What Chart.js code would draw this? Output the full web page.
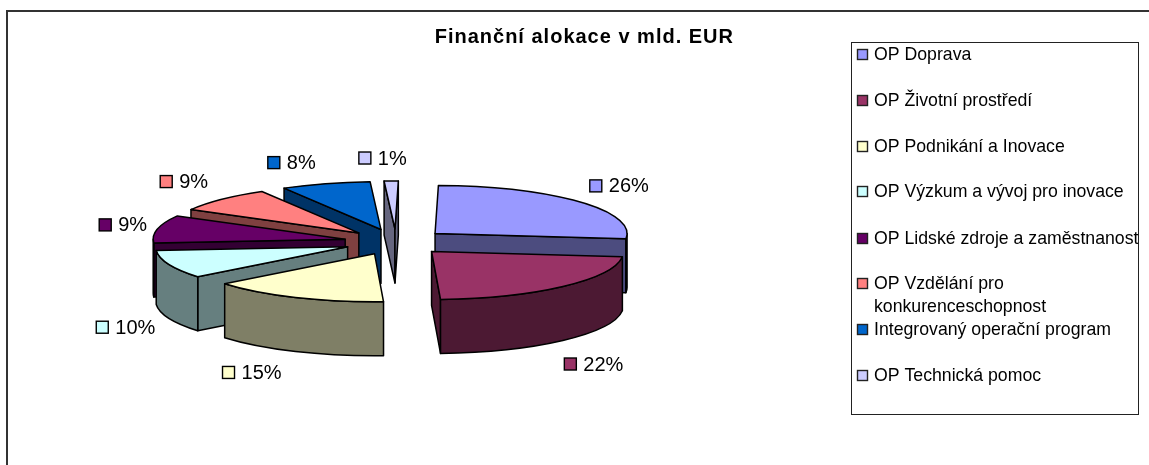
<!DOCTYPE html>
<html lang="cs">
<head>
<meta charset="utf-8">
<title>Finanční alokace</title>
<script src="https://cdn.jsdelivr.net/npm/chart.js@4"></script>
<style>
  html, body { margin: 0; background: #fff; overflow: hidden; }
  .frame { position: absolute; left: 6px; top: 10px; width: 1143px; height: 455px;
           border-top: 2px solid #333; border-left: 2px solid #333; box-sizing: border-box; }
  canvas { position: absolute; left: 0; top: 0; }
</style>
</head>
<body>
<div class="frame"></div>
<canvas id="myChart" width="1149" height="465"></canvas>
<script>
const chartTitle = 'Finanční alokace v mld. EUR';
const categories = [
  'OP Doprava',
  'OP Životní prostředí',
  'OP Podnikání a Inovace',
  'OP Výzkum a vývoj pro inovace',
  'OP Lidské zdroje a zaměstnanost',
  ['OP Vzdělání pro', 'konkurenceschopnost'],
  'Integrovaný operační program',
  'OP Technická pomoc'
];
// shares, in percent
const shares = [26.49, 22.49, 15, 9.51, 9.3, 8.51, 7.52, 1.18];
const topColors = ['#9999FF', '#993366', '#FFFFCC', '#CCFFFF', '#660066', '#FF8080', '#0066CC', '#CCCCFF'];
const sideColors = ['#4C4C7F', '#4C1933', '#7F7F66', '#667F7F', '#330033', '#7F4040', '#003366', '#66667F'];
// legend rows, y of first text line
const legendRows = [54, 100, 146, 191, 238, 283, 329, 375];
// small corrections to where the percent labels land
const labelNudge = [[8, 0], [2, 6], [-22, -1], [2, 0], [13, 1], [-2, -1], [-18, 2], [-5, 1]];

const pie3d = {
  id: 'pie3d',
  beforeDraw(chart, args, opts) {
    // title is spaced out in the original, it is drawn before the datasets
    chart.ctx.letterSpacing = opts.titleSpacing;
  },
  // draw the slices ourselves, back to front, tilted, with walls
  beforeDatasetDraw(chart, args, opts) {
    const ctx = chart.ctx;
    ctx.letterSpacing = '0px';
    const arcs = args.meta.data;
    const t = opts.tilt;
    const mid = a => (a.startAngle + a.endAngle) / 2;
    const order = arcs.map((a, i) => i).sort((p, q) => Math.sin(mid(arcs[p])) - Math.sin(mid(arcs[q])));

    for (const i of order) {
      const a = arcs[i];
      const m = mid(a);
      const r = a.outerRadius;
      const ax = a.x + Math.cos(m) * opts.explode;
      const ay = a.y + Math.sin(m) * opts.explode * t;
      const d = opts.depth;
      ctx.save();
      ctx.lineWidth = opts.lineWidth;
      ctx.lineJoin = 'round';
      ctx.strokeStyle = '#000';
      ctx.fillStyle = sideColors[i];

      // cut faces, only the ones turned to the viewer
      for (const [ang, visible] of [[a.startAngle, Math.cos(a.startAngle) < 0], [a.endAngle, Math.cos(a.endAngle) > 0]]) {
        if (!visible) continue;
        const px = ax + Math.cos(ang) * r;
        const py = ay + Math.sin(ang) * r * t;
        ctx.beginPath();
        ctx.moveTo(ax, ay);
        ctx.lineTo(px, py);
        ctx.lineTo(px, py + d);
        ctx.lineTo(ax, ay + d);
        ctx.closePath();
        ctx.fill();
        ctx.stroke();
      }

      // outer wall, front half of the ellipse only
      const s = Math.max(a.startAngle, 0);
      const e = Math.min(a.endAngle, Math.PI);
      if (e > s) {
        ctx.beginPath();
        ctx.ellipse(ax, ay, r, r * t, 0, s, e);
        ctx.ellipse(ax, ay + d, r, r * t, 0, e, s, true);
        ctx.closePath();
        ctx.fill();
        ctx.stroke();
      }

      // top face goes through the library's own arc element
      ctx.save();
      ctx.translate(ax, ay);
      ctx.scale(1, t);
      ctx.translate(-a.x, -a.y);
      a.draw(ctx);
      ctx.restore();

      ctx.beginPath();
      ctx.moveTo(ax, ay);
      ctx.ellipse(ax, ay, r, r * t, 0, a.startAngle, a.endAngle);
      ctx.closePath();
      ctx.stroke();
      ctx.restore();
    }
    return false;
  },
  afterDatasetsDraw(chart, args, opts) {
    const ctx = chart.ctx;
    const arcs = chart.getDatasetMeta(0).data;
    const total = shares.reduce((p, c) => p + c, 0);
    ctx.save();
    ctx.font = opts.labelFont;
    ctx.textBaseline = 'middle';
    ctx.textAlign = 'left';
    arcs.forEach((a, i) => {
      const m = (a.startAngle + a.endAngle) / 2;
      const txt = Math.round(shares[i] / total * 100) + '%';
      const w = 12 + 2 + ctx.measureText(txt).width;
      const front = Math.sin(m) > 0 ? opts.depth : 0;
      const x = a.x + Math.cos(m) * opts.labelRx - w / 2 + labelNudge[i][0];
      const y = a.y + Math.sin(m) * opts.labelRy + front + labelNudge[i][1];
      ctx.fillStyle = topColors[i];
      ctx.strokeStyle = '#000';
      ctx.lineWidth = 1.4;
      ctx.fillRect(x - 5, y - 6, 12, 12);
      ctx.strokeRect(x - 5, y - 6, 12, 12);
      ctx.fillStyle = '#000';
      ctx.fillText(txt, x + 14, y + 1);
    });
    ctx.restore();
  }
};

const legendBox = {
  id: 'legendBox',
  afterDraw(chart, args, opts) {
    const ctx = chart.ctx;
    ctx.save();
    ctx.strokeStyle = '#222';
    ctx.lineWidth = 1;
    ctx.strokeRect(opts.left + 0.5, opts.top + 0.5, opts.width, opts.height);
    ctx.font = opts.font;
    ctx.textBaseline = 'middle';
    ctx.textAlign = 'left';
    categories.forEach((name, i) => {
      const y = legendRows[i];
      ctx.fillStyle = topColors[i];
      ctx.strokeStyle = '#222';
      ctx.lineWidth = 1.4;
      ctx.fillRect(opts.left + 6.5, y - 4.5, 10, 10);
      ctx.strokeRect(opts.left + 6.5, y - 4.5, 10, 10);
      ctx.fillStyle = '#000';
      const lines = Array.isArray(name) ? name : [name];
      lines.forEach((line, k) => ctx.fillText(line, opts.left + 23, y + 1 + k * opts.lineGap));
    });
    ctx.restore();
  }
};

const ctx = document.getElementById('myChart').getContext('2d');

const chart = new Chart(ctx, {
  type: 'pie',
  data: {
    labels: categories.map(c => Array.isArray(c) ? c.join(' ') : c),
    datasets: [{
      data: shares,
      backgroundColor: topColors,
      borderWidth: 0,
      radius: 192
    }]
  },
  plugins: [pie3d, legendBox],
  options: {
    responsive: false,
    animation: false,
    events: [],
    rotation: 1,
    layout: { padding: { left: 58, right: 415, bottom: 30 } },
    plugins: {
      legend: { display: false },
      tooltip: { enabled: false },
      title: {
        display: true,
        text: chartTitle,
        align: 'end',
        color: '#000',
        font: { family: '"Liberation Sans", Arial, sans-serif', size: 20, weight: 'bold' },
        padding: { top: 25, bottom: 0 }
      },
      pie3d: {
        tilt: 0.25, explode: 52, depth: 54, lineWidth: 1.5,
        labelRx: 290, labelRy: 85,
        titleSpacing: '1px',
        labelFont: '20px "Liberation Sans", Arial, sans-serif'
      },
      legendBox: {
        left: 851, top: 42, width: 287, height: 372, lineGap: 23,
        font: '17.7px "Liberation Sans", Arial, sans-serif'
      }
    }
  }
});
</script>
</body>
</html>
